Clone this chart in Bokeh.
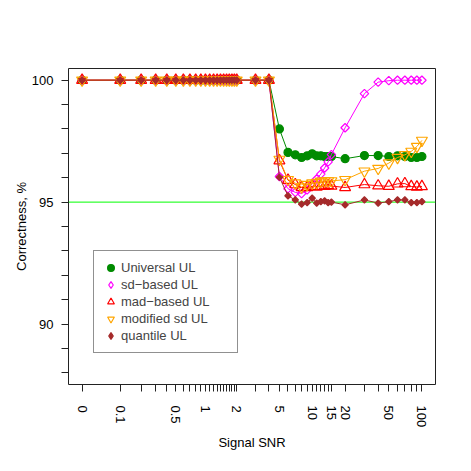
import numpy as np
from bokeh.plotting import figure
from bokeh.models import FixedTicker, Span, Legend, LegendItem, Range1d
from bokeh.embed import file_html
from bokeh.resources import INLINE

# ---- data ----
snr = [0, 0.1, 0.2, 0.3, 0.4, 0.5, 0.6, 0.7, 0.8, 0.9, 1.0, 1.1, 1.2, 1.3, 1.4,
       1.5, 1.6, 1.7, 1.8, 1.9, 2.0, 3, 4, 5, 6, 7, 8, 9, 10, 11, 12, 13, 14, 15,
       20, 30, 40, 50, 60, 70, 80, 90, 100]

universal_ul = [100, 100, 100, 100, 100, 100, 100, 100, 100, 100, 100, 100, 100, 100, 100,
                100, 100, 100, 100, 100, 100, 100, 100,
                98.0, 97.04, 96.94, 96.83, 96.90, 96.98, 96.90, 96.90, 96.87, 96.87, 96.87,
                96.78, 96.91, 96.91, 96.87, 96.90, 96.87, 96.83, 96.83, 96.87]
sd_ul = [100, 100, 100, 100, 100, 100, 100, 100, 100, 100, 100, 100, 100, 100, 100,
         100, 100, 100, 100, 100, 100, 100, 100,
         96.05, 95.55, 95.40, 95.35, 95.50, 95.75, 95.95, 96.15, 96.40, 96.65, 96.95,
         98.05, 99.45, 99.92, 99.98, 100, 100, 100, 100, 100]
mad_ul = [100, 100, 100, 100, 100, 100, 100, 100, 100, 100, 100, 100, 100, 100, 100,
          100, 100, 100, 100, 100, 100, 100, 100,
          96.70, 95.90, 95.72, 95.60, 95.60, 95.65, 95.62, 95.65, 95.65, 95.68, 95.66,
          95.60, 95.72, 95.67, 95.65, 95.75, 95.76, 95.64, 95.62, 95.64]
modsd_ul = [100, 100, 100, 100, 100, 100, 100, 100, 100, 100, 100, 100, 100, 100, 100,
            100, 100, 100, 100, 100, 100, 100, 100,
            96.75, 95.92, 95.78, 95.62, 95.72, 95.78, 95.80, 95.85, 95.87, 95.87, 95.87,
            95.92, 96.27, 96.38, 96.60, 96.83, 96.94, 97.08, 97.28, 97.53]
quantile_ul = [100, 100, 100, 100, 100, 100, 100, 100, 100, 100, 100, 100, 100, 100, 100,
               100, 100, 100, 100, 100, 100, 100, 100,
               96.02, 95.26, 95.09, 94.92, 94.98, 95.16, 94.96, 95.02, 95.05, 94.98, 95.00,
               94.89, 95.09, 94.96, 95.02, 95.09, 95.09, 94.98, 94.98, 95.02]

x_labeled = [0, 0.1, 0.5, 1, 2, 5, 10, 15, 20, 50, 100]
y_ticks = [88, 89, 90, 91, 92, 93, 94, 95, 96, 97, 98, 99, 100]
y_labeled = [90, 95, 100]
ref_level = 95

series_names = ["Universal UL", "sd\u2212based UL", "mad\u2212based UL", "modified sd UL", "quantile UL"]

# ---- plot ----
OFFSET = 0.082  # log(SNR + offset) axis
FONT = "Liberation Sans"
FS = "13px"
NAN = float("nan")

xs = [v + OFFSET for v in snr]
lo = np.log10(OFFSET)
hi = np.log10(100 + OFFSET)
pad = 0.04 * (hi - lo)

p = figure(frame_width=367, frame_height=316, x_axis_type="log",
           x_range=Range1d(10 ** (lo - pad), 10 ** (hi + pad)),
           y_range=Range1d(87.52, 100.48),
           output_backend="svg", toolbar_location=None,
           min_border_left=68, min_border_top=68, min_border_right=12, min_border_bottom=50)
p.xgrid.visible = False
p.ygrid.visible = False
p.outline_line_color = "#222222"
p.outline_line_width = 1
p.background_fill_color = "white"
p.border_fill_color = "white"

p.add_layout(Span(location=ref_level, dimension="width", line_color="#00FF00",
                  line_width=1, level="underlay"))

styles = [
    dict(color="#008B00", marker="circle", size=8, fill=True, angle=0, leg="circle", lsize=8),
    dict(color="#FF00FF", marker="square", size=6, fill=False, angle=np.pi / 4, leg="diamond", lsize=10),
    dict(color="#FF0000", marker="triangle", size=11, fill=False, angle=0, leg="triangle", lsize=11),
    dict(color="#FFA500", marker="inverted_triangle", size=11, fill=False, angle=0,
         leg="inverted_triangle", lsize=11),
    dict(color="#A52A2A", marker="square", size=4.5, fill=True, angle=np.pi / 4, leg="diamond", lsize=7),
]
all_series = [universal_ul, sd_ul, mad_ul, modsd_ul, quantile_ul]

items = []
for name, ys, st in zip(series_names, all_series, styles):
    p.line(xs, ys, line_color=st["color"], line_width=1)
    fc = st["color"] if st["fill"] else None
    fa = 1 if st["fill"] else 0
    p.scatter(xs, ys, marker=st["marker"], size=st["size"], angle=st["angle"],
              line_color=st["color"], line_width=1.2, fill_color=fc, fill_alpha=fa)
    # legend-only renderer: a single undefined point, so nothing appears in the plot area
    lr = p.scatter([NAN], [NAN], marker=st["leg"], size=st["lsize"],
                   line_color=st["color"], line_width=1.2, fill_color=fc, fill_alpha=fa)
    items.append(LegendItem(label=name, renderers=[lr]))

legend = Legend(items=items, location=(25, 31), border_line_color="#222222",
                border_line_width=1, background_fill_color="white", background_fill_alpha=1,
                padding=8, spacing=0, glyph_height=17, glyph_width=17, label_height=17,
                label_standoff=2, label_width=108, margin=0,
                label_text_font=FONT, label_text_font_size=FS)
p.add_layout(legend)

# x axis
xt = [v + OFFSET for v in snr]
xa = p.xaxis[0]
xa.ticker = FixedTicker(ticks=xt, minor_ticks=[])
overrides = {}
for v, t in zip(snr, xt):
    overrides[t] = ("%g" % v) if v in x_labeled else ""
xa.major_label_overrides = overrides
xa.major_label_orientation = "vertical"
xa.axis_label = "Signal SNR"

# y axis
ya = p.yaxis[0]
ya.ticker = FixedTicker(ticks=y_ticks, minor_ticks=[])
ya.major_label_overrides = {t: (str(t) if t in y_labeled else "") for t in y_ticks}
ya.axis_label = "Correctness, %"

for ax in (xa, ya):
    ax.axis_line_color = None
    ax.major_tick_out = 7
    ax.major_tick_in = 0
    ax.minor_tick_out = 0
    ax.minor_tick_in = 0
    ax.major_tick_line_color = "#222222"
    ax.major_label_text_font = FONT
    ax.major_label_text_font_size = FS
    ax.major_label_text_color = "black"
    ax.axis_label_text_font = FONT
    ax.axis_label_text_font_size = FS
    ax.axis_label_text_font_style = "normal"
    ax.axis_label_text_color = "black"

xa.major_label_standoff = 14
xa.axis_label_standoff = 5
ya.major_label_standoff = 8
ya.axis_label_standoff = 0

open("out.html", "w").write(file_html(p, INLINE))
